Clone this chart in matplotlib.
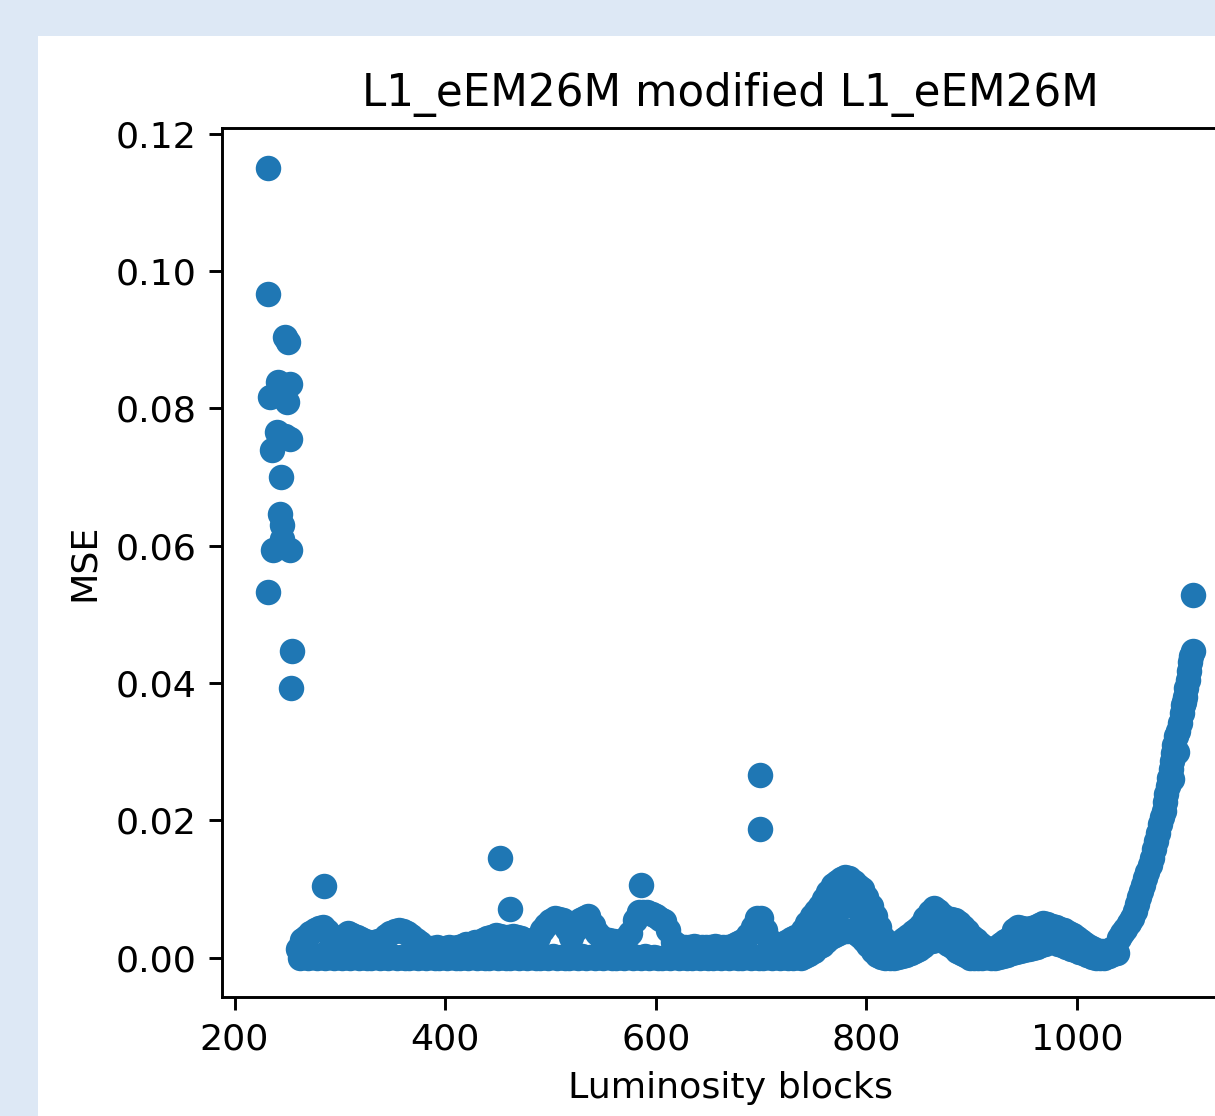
import numpy as np
import matplotlib
matplotlib.use("Agg")
import matplotlib.pyplot as plt
from matplotlib.patches import Rectangle

title = "L1_eEM26M modified L1_eEM26M"

# early lumi blocks with large MSE
early_lb = [232, 232, 248, 251, 234, 241, 253, 250, 236, 240, 253, 248,
            244, 243, 245, 237, 253, 245, 232, 255, 254]
early_mse = [0.1151, 0.0967, 0.0904, 0.0897, 0.0817, 0.0839, 0.0836, 0.0810,
             0.0740, 0.0765, 0.0755, 0.0760, 0.0700, 0.0646, 0.0630, 0.0594,
             0.0594, 0.0610, 0.0533, 0.0446, 0.0392]

# isolated spikes inside the stable part of the run
spike_lb = [285, 452, 462, 586, 699, 699]
spike_mse = [0.0104, 0.0145, 0.0070, 0.0106, 0.0266, 0.0187]

# main band, upper points (every 4th lumi block from 260)
band_hi_lb = np.arange(260, 1037, 4)
band_hi_mse = [
    0.0012, 0.0025, 0.0030, 0.0036, 0.0040, 0.0043, 0.0045, 0.0038, 0.0030, 0.0029,
    0.0028, 0.0032, 0.0036, 0.0033, 0.0030, 0.0027, 0.0024, 0.0023, 0.0022, 0.0024,
    0.0026, 0.0031, 0.0036, 0.0038, 0.0040, 0.0039, 0.0036, 0.0031, 0.0026, 0.0021,
    0.0016, 0.0014, 0.0014, 0.0015, 0.0013, 0.0014, 0.0015, 0.0014, 0.0016, 0.0017,
    0.0019, 0.0020, 0.0022, 0.0023, 0.0025, 0.0028, 0.0030, 0.0033, 0.0032, 0.0030,
    0.0030, 0.0031, 0.0030, 0.0028, 0.0026, 0.0024, 0.0022, 0.0030, 0.0040, 0.0048,
    0.0053, 0.0058, 0.0056, 0.0055, 0.0042, 0.0030, 0.0042, 0.0055, 0.0058, 0.0060,
    0.0048, 0.0036, 0.0030, 0.0026, 0.0025, 0.0024, 0.0023, 0.0022, 0.0028, 0.0036,
    0.0055, 0.0067, 0.0067, 0.0067, 0.0064, 0.0060, 0.0056, 0.0053, 0.0040, 0.0022,
    0.0018, 0.0016, 0.0015, 0.0016, 0.0017, 0.0015, 0.0016, 0.0015, 0.0016, 0.0017,
    0.0016, 0.0015, 0.0016, 0.0017, 0.0019, 0.0022, 0.0026, 0.0033, 0.0045, 0.0058,
    0.0058, 0.0040, 0.0025, 0.0016, 0.0016, 0.0020, 0.0023, 0.0027, 0.0030, 0.0030,
    0.0040, 0.0050, 0.0060, 0.0068, 0.0075, 0.0085, 0.0096, 0.0105, 0.0110, 0.0115,
    0.0118, 0.0116, 0.0110, 0.0104, 0.0100, 0.0088, 0.0075, 0.0060, 0.0045, 0.0028,
    0.0016, 0.0014, 0.0016, 0.0022, 0.0027, 0.0032, 0.0037, 0.0042, 0.0048, 0.0058,
    0.0066, 0.0072, 0.0068, 0.0062, 0.0058, 0.0056, 0.0054, 0.0050, 0.0044, 0.0038,
    0.0030, 0.0026, 0.0020, 0.0015, 0.0012, 0.0013, 0.0016, 0.0020, 0.0024, 0.0028,
    0.0040, 0.0045, 0.0043, 0.0042, 0.0043, 0.0045, 0.0048, 0.0050, 0.0049, 0.0046,
    0.0044, 0.0042, 0.0040, 0.0036, 0.0033, 0.0028, 0.0024, 0.0020, 0.0016, 0.0012,
    0.0010, 0.0009, 0.0010, 0.0013, 0.0016,
]

# main band, lower points (every 4th lumi block from 262)
band_lo_lb = np.arange(262, 1039, 4)
band_lo_mse = [
    0.0000, 0.0002, 0.0000, 0.0001, 0.0000, 0.0003, 0.0000, 0.0001, 0.0000, 0.0002,
    0.0000, 0.0001, 0.0000, 0.0002, 0.0000, 0.0001, 0.0000, 0.0000, 0.0002, 0.0000,
    0.0001, 0.0000, 0.0002, 0.0000, 0.0001, 0.0000, 0.0000, 0.0001, 0.0000, 0.0002,
    0.0000, 0.0001, 0.0000, 0.0000, 0.0002, 0.0000, 0.0001, 0.0000, 0.0000, 0.0001,
    0.0000, 0.0002, 0.0000, 0.0001, 0.0000, 0.0000, 0.0002, 0.0000, 0.0001, 0.0000,
    0.0000, 0.0001, 0.0000, 0.0002, 0.0000, 0.0001, 0.0000, 0.0000, 0.0001, 0.0000,
    0.0002, 0.0000, 0.0001, 0.0000, 0.0000, 0.0001, 0.0000, 0.0002, 0.0000, 0.0001,
    0.0000, 0.0001, 0.0000, 0.0002, 0.0000, 0.0000, 0.0001, 0.0000, 0.0002, 0.0000,
    0.0001, 0.0000, 0.0002, 0.0000, 0.0001, 0.0000, 0.0000, 0.0001, 0.0000, 0.0002,
    0.0000, 0.0001, 0.0000, 0.0000, 0.0002, 0.0000, 0.0001, 0.0000, 0.0000, 0.0001,
    0.0000, 0.0002, 0.0000, 0.0001, 0.0000, 0.0000, 0.0002, 0.0000, 0.0001, 0.0000,
    0.0000, 0.0001, 0.0000, 0.0002, 0.0000, 0.0001, 0.0000, 0.0000, 0.0001, 0.0000,
    0.0002, 0.0005, 0.0010, 0.0015, 0.0018, 0.0024, 0.0030, 0.0033, 0.0036, 0.0038,
    0.0039, 0.0038, 0.0036, 0.0032, 0.0025, 0.0018, 0.0010, 0.0004, 0.0001, 0.0000,
    0.0000, 0.0000, 0.0001, 0.0002, 0.0004, 0.0006, 0.0009, 0.0013, 0.0017, 0.0022,
    0.0024, 0.0025, 0.0025, 0.0025, 0.0020, 0.0015, 0.0010, 0.0006, 0.0003, 0.0000,
    0.0000, 0.0000, 0.0000, 0.0001, 0.0000, 0.0000, 0.0001, 0.0002, 0.0004, 0.0007,
    0.0008, 0.0010, 0.0011, 0.0013, 0.0014, 0.0016, 0.0018, 0.0020, 0.0022, 0.0022,
    0.0020, 0.0018, 0.0016, 0.0013, 0.0011, 0.0008, 0.0006, 0.0003, 0.0001, 0.0000,
    0.0000, 0.0000, 0.0002, 0.0005, 0.0007,
]

# points in the middle of the two broad bumps
bump_lb = [749, 753, 757, 761, 765, 769, 773, 777, 781, 785, 789, 793, 797, 801, 805,
           853, 857, 861, 865, 869, 873, 877, 881, 885, 889]
bump_mse = [0.0028, 0.0035, 0.0042, 0.0047, 0.0055, 0.0063, 0.0069, 0.0073, 0.0078,
            0.0077, 0.0074, 0.0070, 0.0066, 0.0056, 0.0046,
            0.0030, 0.0035, 0.0042, 0.0047, 0.0047, 0.0045, 0.0042, 0.0038, 0.0035,
            0.0030]

# rise at the end of the run
tail_lb = [1040, 1043, 1046, 1049, 1052, 1055, 1057, 1059, 1061, 1063, 1065, 1067,
           1069, 1071, 1073, 1075, 1077, 1079, 1081, 1083, 1084, 1085, 1086, 1087,
           1089, 1090, 1091, 1092, 1094, 1096, 1098, 1100, 1101, 1103, 1104, 1105,
           1106, 1107, 1108, 1110, 1090, 1095, 1102, 1110]
tail_mse = [0.0028, 0.0036, 0.0042, 0.0050, 0.0058, 0.0068, 0.0078, 0.0088, 0.0097,
            0.0106, 0.0116, 0.0125, 0.0135, 0.0145, 0.0158, 0.0170, 0.0182, 0.0194,
            0.0204, 0.0214, 0.0226, 0.0238, 0.0250, 0.0262, 0.0274, 0.0286, 0.0298,
            0.0310, 0.0322, 0.0330, 0.0342, 0.0356, 0.0368, 0.0380, 0.0393, 0.0405,
            0.0418, 0.0430, 0.0440, 0.0447, 0.0260, 0.0300, 0.0372, 0.0528]

lumi = np.concatenate([early_lb, band_hi_lb, band_lo_lb, bump_lb, tail_lb, spike_lb])
mse = np.concatenate([early_mse, band_hi_mse, band_lo_mse, bump_mse, tail_mse, spike_mse])

W, H, DPI = 1215, 1116, 262
fig = plt.figure(figsize=(W / DPI, H / DPI), dpi=DPI)
fig.patch.set_facecolor("#dde8f5")
fig.add_artist(Rectangle((38 / W, 0), 1, (H - 36) / H, transform=fig.transFigure,
                         facecolor="white", edgecolor="none", zorder=-1))

ax = fig.add_axes([222 / W, (H - 997) / H, 1017 / W, (997 - 128) / H])
ax.scatter(lumi, mse)
ax.set_title(title)
ax.set_xlabel("Luminosity blocks")
ax.set_ylabel("MSE")

fig.savefig("out.png", dpi=DPI)
